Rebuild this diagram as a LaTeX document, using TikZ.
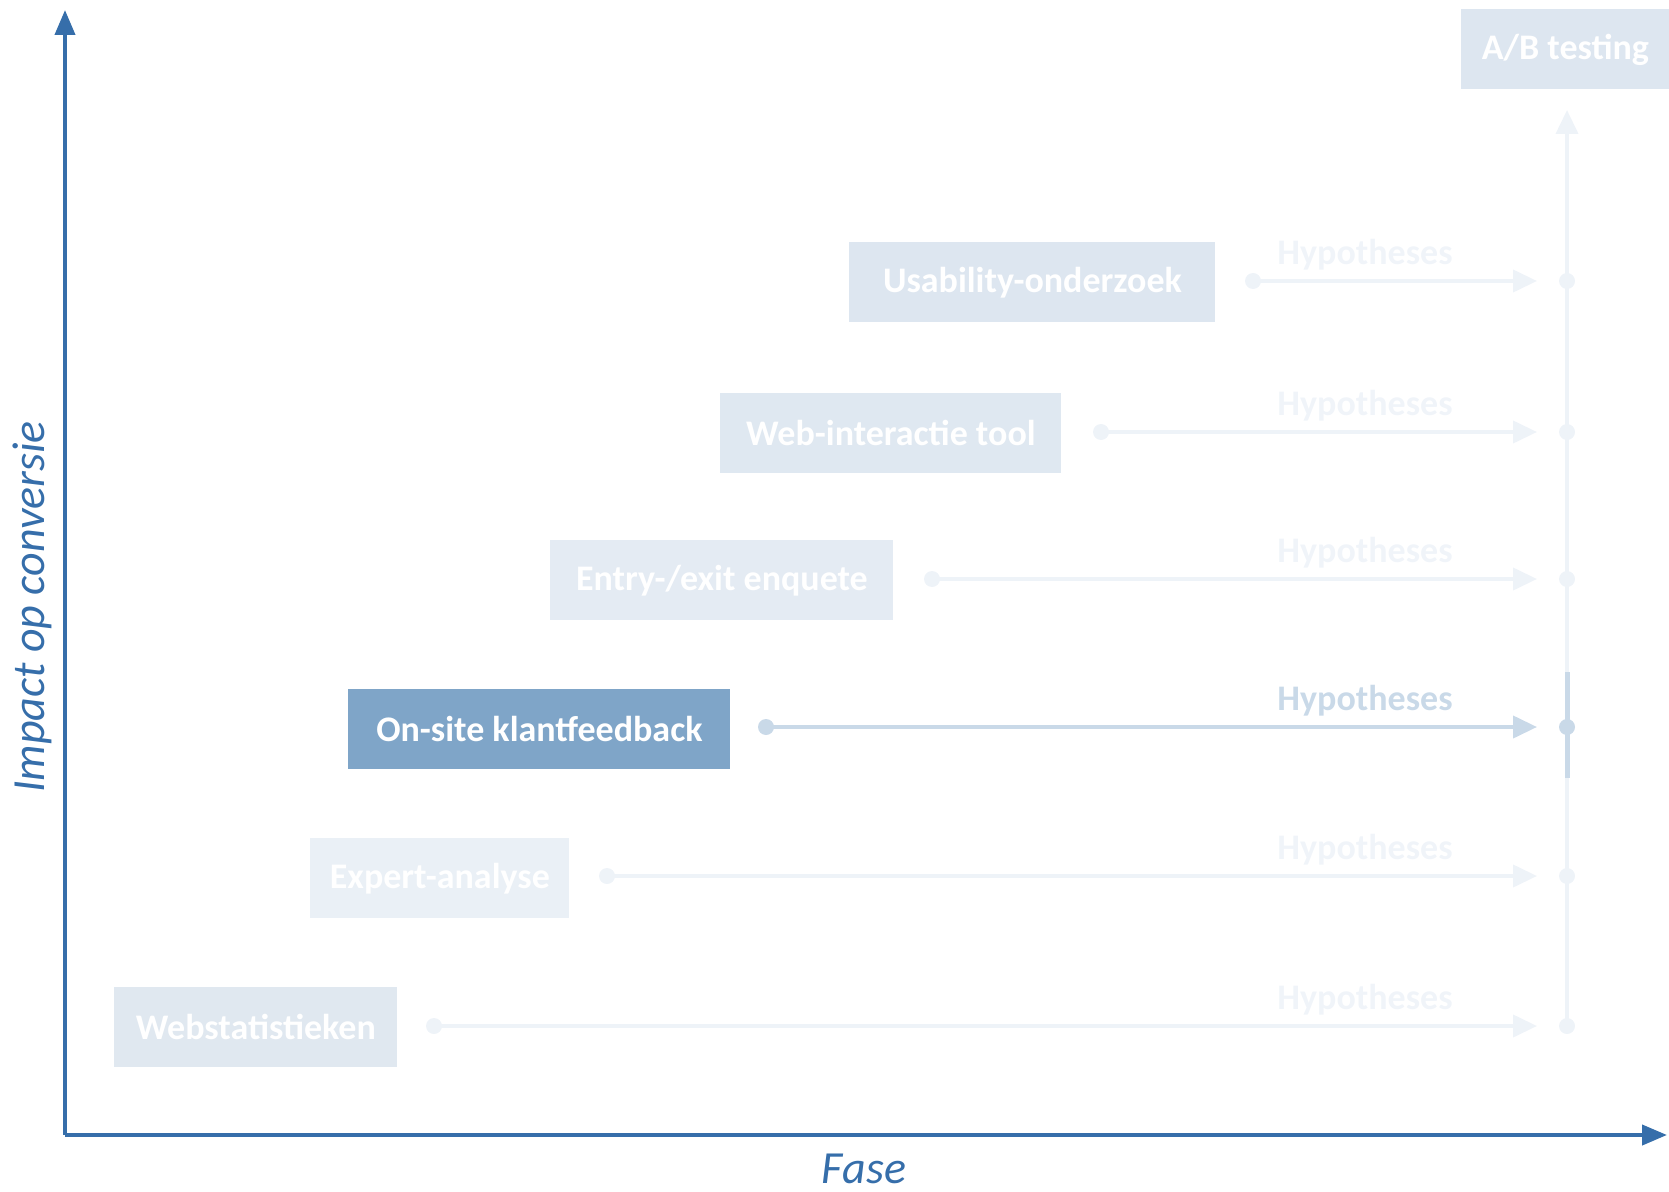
\documentclass[tikz,border=0pt]{standalone}
\usepackage{fontspec}
\setmainfont{Carlito}
\usetikzlibrary{arrows.meta}

\definecolor{axisblue}{RGB}{54,110,170}
\definecolor{hibox}{RGB}{127,165,200}
\definecolor{hiline}{RGB}{201,217,232}
\definecolor{fadeline}{RGB}{238,243,248}
\definecolor{fadetext}{RGB}{240,244,249}
\definecolor{boxA}{RGB}{221,230,240}
\definecolor{boxB}{RGB}{223,232,241}
\definecolor{boxC}{RGB}{228,235,243}
\definecolor{boxD}{RGB}{234,240,246}
\definecolor{boxE}{RGB}{224,232,240}

\tikzset{
  axis/.style={line width=2pt, draw=axisblue, -{Triangle[length=12.5pt,width=10pt]}},
  axislabel/.style={text=axisblue, inner sep=0pt, font=\fontsize{23}{26}\selectfont\itshape},
  method/.style={anchor=north west, inner sep=0pt, text=white,
    font=\fontsize{18}{21}\selectfont\bfseries, align=center},
  flow/.style={line width=2pt, -{Triangle[length=12pt,width=11pt]}, shorten >=2pt},
  hyp/.style={font=\fontsize{18}{21}\selectfont\bfseries},
  dot/.style={circle, inner sep=0pt, minimum size=8pt},
}

\begin{document}
\begin{tikzpicture}[x=0.5pt, y=-0.5pt]
\useasboundingbox (0,0) rectangle (1669,1192);

% axes
\coordinate (origin) at (65,1135);
\coordinate (ytop) at (65,10);
\coordinate (xend) at (1667,1135);
\draw[axis] (origin) -- (ytop);
\draw[axis] (origin) -- (xend);
\node[axislabel, rotate=90] (ylabel) at (32,607) {Impact op conversie};
\node[axislabel] (xlabel) at (864,1169) {Fase};

% vertical test line towards A/B testing
\coordinate (vbottom) at (1567,1026);
\coordinate (vtop) at (1567,110);
\draw[line width=2pt, draw=fadeline, -{Triangle[length=12pt,width=11pt]}] (vbottom) -- (vtop);
\coordinate (hiA) at (1567,672);
\coordinate (hiB) at (1567,778);
\draw[line width=2.5pt, draw=hiline] (hiA) -- (hiB);

% A/B testing box
\node[method, fill=boxA, minimum width=208*0.5pt, minimum height=80*0.5pt] (ab) at (1461,9) {A/B testing};

% method boxes: name / x / y / width / fill / text
\foreach \n/\x/\y/\w/\fillc/\txt in {
    usab/849/242/366/boxA/{Usability-onderzoek},
    webint/720/393/341/boxB/{Web-interactie tool},
    entry/550/540/343/boxC/{Entry-/exit enquete},
    onsite/348/689/382/hibox/{On-site klantfeedback},
    expert/310/838/259/boxD/{Expert-analyse},
    webstat/114/987/283/boxE/{Webstatistieken}}{
  \node[method, fill=\fillc, minimum width=\w*0.5pt, minimum height=80*0.5pt] (\n) at (\x,\y) {\txt};
}

% hypothesis arrows: name / start x / row y / line colour / text colour
\foreach \n/\sx/\ry/\lc/\tc in {
    usab/1253/281/fadeline/fadetext,
    webint/1101/432/fadeline/fadetext,
    entry/932/579/fadeline/fadetext,
    onsite/766/727/hiline/hiline,
    expert/607/876/fadeline/fadetext,
    webstat/434/1026/fadeline/fadetext}{
  \node[dot, fill=\lc] (\n-start) at (\sx,\ry) {};
  \node[dot, fill=\lc] (\n-test) at (1567,\ry) {};
  \coordinate (\n-tip) at (1541,\ry);
  \draw[flow, draw=\lc] (\n-start.center) -- (\n-tip);
  \node[hyp, text=\tc] (\n-hyp) at (1365,\ry-26) {Hypotheses};
}
\end{tikzpicture}
\end{document}
